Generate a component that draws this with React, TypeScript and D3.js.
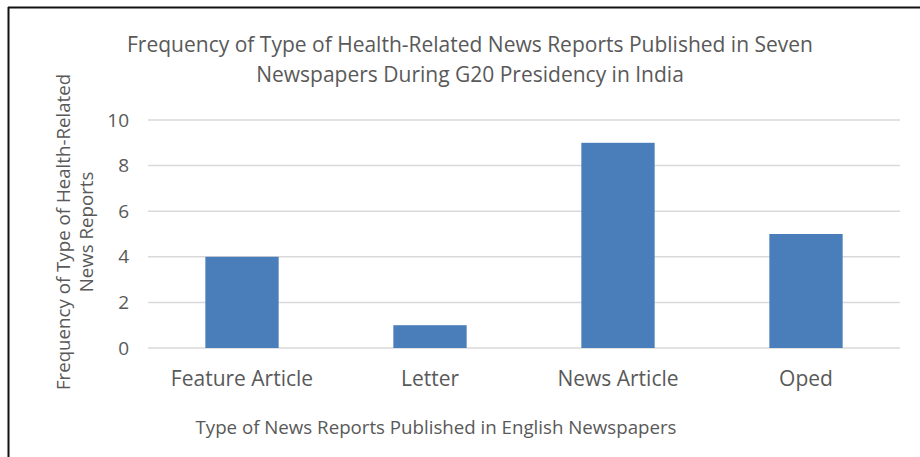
import React from "react";
import * as d3 from "d3";

const categories = ["Feature Article", "Letter", "News Article", "Oped"];
const values = [4, 1, 9, 5];
const yTicks = [0, 2, 4, 6, 8, 10];
const titleLines = [
  "Frequency of Type of Health-Related News Reports Published in Seven",
  "Newspapers During G20 Presidency in India",
];
const yTitleLines = ["Frequency of Type of Health-Related", "News Reports"];
const xTitle = "Type of News Reports Published in English Newspapers";

const W = 920;
const H = 457;
const FONT = "'Open Sans', Lato, sans-serif";
const TEXT = "#595959";

export default function App() {
  const x = d3
    .scaleBand<string>()
    .domain(categories)
    .range([148, 900])
    .paddingInner(0.61)
    .paddingOuter(0.305);
  const y = d3.scaleLinear().domain([0, 10]).range([348, 120]);

  return (
    <svg
      width={W}
      height={H}
      style={{ position: "absolute", left: 0, top: 0, background: "#fff" }}
      fontFamily={FONT}
    >
      <rect x={0} y={0} width={W} height={H} fill="#fff" />
      <line x1={8} x2={W} y1={7.5} y2={7.5} stroke="#111" strokeWidth={2} />
      <line x1={8.5} x2={8.5} y1={7} y2={H} stroke="#111" strokeWidth={2} />

      {titleLines.map((t, i) => (
        <text
          key={t}
          x={470}
          y={52 + i * 30}
          textAnchor="middle"
          fontSize={21}
          fill={TEXT}
        >
          {t}
        </text>
      ))}

      {yTicks.map((t) => (
        <g key={t}>
          <line
            x1={148}
            x2={900}
            y1={y(t)}
            y2={y(t)}
            stroke="#d9d9d9"
            strokeWidth={1.5}
          />
          <text
            x={129}
            y={y(t)}
            dy="0.35em"
            textAnchor="end"
            fontSize={19}
            fill={TEXT}
          >
            {t}
          </text>
        </g>
      ))}

      {categories.map((c, i) => (
        <g key={c}>
          <rect
            x={x(c)}
            y={y(values[i])}
            width={x.bandwidth()}
            height={y(0) - y(values[i])}
            fill="#4a7ebb"
          />
          <text
            x={(x(c) as number) + x.bandwidth() / 2}
            y={386}
            textAnchor="middle"
            fontSize={21}
            fill={TEXT}
          >
            {c}
          </text>
        </g>
      ))}

      <text x={436} y={434} textAnchor="middle" fontSize={18.7} fill={TEXT}>
        {xTitle}
      </text>

      {yTitleLines.map((t, i) => (
        <text
          key={t}
          transform={`translate(${70 + i * 23},232) rotate(-90)`}
          textAnchor="middle"
          fontSize={18.7}
          fill={TEXT}
        >
          {t}
        </text>
      ))}
    </svg>
  );
}
